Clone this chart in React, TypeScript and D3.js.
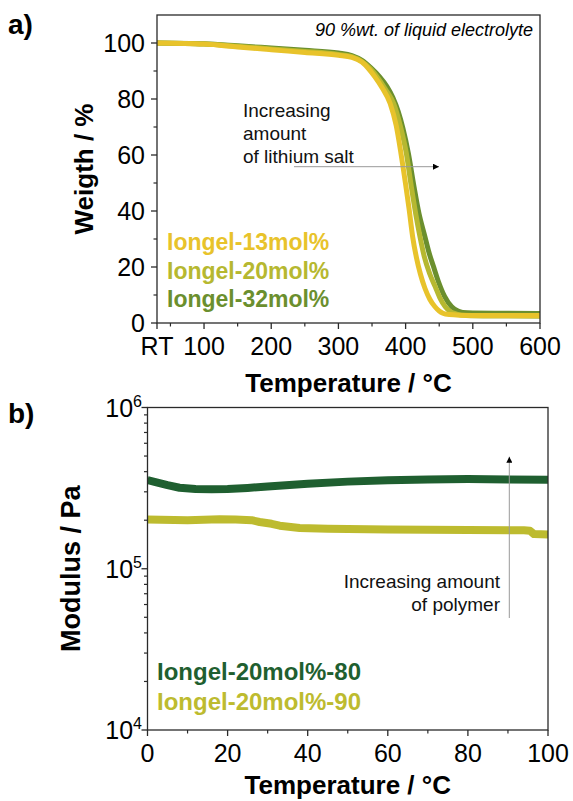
import React from "react";
import * as d3 from "d3";

// ---------- Panel a data (TGA) ----------
const tempA13 = [30, 100, 150, 200, 250, 300, 320, 335, 345, 354, 365, 377, 386, 393, 400.5, 405, 410.5, 416, 422, 428.6, 436, 443.7, 450, 455.6, 465, 480, 520, 560, 600];
const weight13 = [100, 99.6, 98.6, 97.6, 96.6, 95.6, 94.9, 93.2, 90.8, 88, 84, 78.4, 70.5, 60.7, 48.7, 41, 30.8, 23.5, 17.5, 12.5, 8.5, 5.8, 4.3, 3.5, 3.0, 2.8, 2.7, 2.7, 2.7];
const tempA20 = [30, 100, 150, 200, 250, 300, 320, 335, 348, 358, 370, 382, 392, 401, 408.5, 415, 421.4, 428, 436, 444, 451, 459, 467, 476, 490, 530, 600];
const weight20 = [100, 99.6, 98.8, 97.9, 97.0, 95.9, 95.1, 93.4, 90.7, 87.8, 83.5, 78.5, 70.5, 60.7, 48.7, 39, 30.8, 23.5, 17.5, 13, 9, 5.8, 4.0, 3.2, 2.7, 2.5, 2.4];
const tempA32 = [30, 100, 150, 200, 250, 300, 320, 335, 348, 361, 372, 381, 389, 396, 404, 412.5, 420, 428.8, 435, 441, 448.5, 458, 468.6, 478, 485, 500, 550, 600];
const weight32 = [100, 99.7, 99.0, 98.2, 97.4, 96.4, 95.5, 93.8, 91.2, 88, 84.5, 80.5, 75.5, 69.5, 60.7, 48.7, 39, 30.8, 25, 20.5, 15, 9.5, 5.8, 4.3, 3.8, 3.6, 3.5, 3.4];

const seriesA = ["Iongel-13mol%", "Iongel-20mol%", "Iongel-32mol%"];
const colorsA = ["#E8C32B", "#B6B830", "#6B8F2E"];

const xTicksA = [30, 100, 200, 300, 400, 500, 600];
const xTickLabelsA = ["RT", "100", "200", "300", "400", "500", "600"];
const xMinorA = [50, 150, 250, 350, 450, 550];
const yTicksA = [0, 20, 40, 60, 80, 100];
const yMinorA = [10, 30, 50, 70, 90];

// ---------- Panel b data (rheology) ----------
const tempB80 = [0, 2, 5, 8, 12, 16, 20, 25, 30, 40, 50, 60, 70, 80, 90, 100];
const modulus80 = [3.55e5, 3.45e5, 3.3e5, 3.18e5, 3.12e5, 3.11e5, 3.12e5, 3.17e5, 3.24e5, 3.37e5, 3.47e5, 3.54e5, 3.58e5, 3.6e5, 3.58e5, 3.56e5];
const tempB90 = [0, 10, 18, 22, 26, 28, 31, 33, 38, 45, 60, 80, 94, 95.5, 96.5, 100];
const modulus90 = [2.02e5, 2.0e5, 2.03e5, 2.02e5, 2.0e5, 1.95e5, 1.9e5, 1.85e5, 1.79e5, 1.77e5, 1.75e5, 1.74e5, 1.73e5, 1.72e5, 1.64e5, 1.63e5];

const seriesB = ["Iongel-20mol%-80", "Iongel-20mol%-90"];
const colorsB = ["#1F5F30", "#BDBB2F"];

const xTicksB = [0, 20, 40, 60, 80, 100];
const xMinorB = [10, 30, 50, 70, 90];
const yTicksB = [1e4, 1e5, 1e6];
const yExpB = ["4", "5", "6"];
const yMinorB = [2e4, 3e4, 4e4, 5e4, 6e4, 7e4, 8e4, 9e4, 2e5, 3e5, 4e5, 5e5, 6e5, 7e5, 8e5, 9e5];

const FONT = "'Liberation Sans', Arial, Helvetica, sans-serif";
const AXIS = "#2a2a2a";

export default function App() {
  // Panel a scales
  const xA = d3.scaleLinear().domain([30, 600]).range([157, 540]);
  const yA = d3.scaleLinear().domain([0, 110]).range([323, 15]);
  // Panel b scales
  const xB = d3.scaleLinear().domain([0, 100]).range([147.5, 548]);
  const yB = d3.scaleLog().domain([1e4, 1e6]).range([730, 407.5]);

  const lineA = d3.line<[number, number]>().x((d) => xA(d[0])).y((d) => yA(d[1])).curve(d3.curveMonotoneX);
  const lineB = d3.line<[number, number]>().x((d) => xB(d[0])).y((d) => yB(d[1])).curve(d3.curveLinear);

  const zip = (a: number[], b: number[]) => a.map((v, i) => [v, b[i]] as [number, number]);
  const dataA = [zip(tempA13, weight13), zip(tempA20, weight20), zip(tempA32, weight32)];
  const dataB = [zip(tempB80, modulus80), zip(tempB90, modulus90)];

  const [ax0, ax1] = xA.range();
  const [ay0, ay1] = yA.range();
  const [bx0, bx1] = xB.range();
  const [by0, by1] = yB.range();

  return (
    <svg width={573} height={801} style={{ position: "absolute", left: 0, top: 0, background: "#fff" }} fontFamily={FONT}>
      <defs>
        <clipPath id="clipA"><rect x={ax0} y={ay1} width={ax1 - ax0} height={ay0 - ay1} /></clipPath>
        <clipPath id="clipB"><rect x={bx0} y={by1} width={bx1 - bx0} height={by0 - by1} /></clipPath>
        <marker id="arrowHead" viewBox="0 0 10 10" refX="10" refY="5" markerWidth="8" markerHeight="6" markerUnits="userSpaceOnUse" orient="auto">
          <path d="M0,0 L10,5 L0,10 z" fill="#000" />
        </marker>
      </defs>

      {/* ================= Panel a ================= */}
      <text x={8} y={34} fontSize={28} fontWeight="bold">a)</text>
      <g clipPath="url(#clipA)">
        {[2, 1, 0].map((i) => (
          <path key={i} d={lineA(dataA[i]) || ""} fill="none" stroke={colorsA[i]} strokeWidth={5} strokeLinejoin="round" />
        ))}
      </g>
      <rect x={ax0} y={ay1} width={ax1 - ax0} height={ay0 - ay1} fill="none" stroke={AXIS} strokeWidth={1.3} />
      {xTicksA.map((t, i) => (
        <g key={"xa" + t}>
          <line x1={xA(t)} x2={xA(t)} y1={ay0} y2={ay0 + 6} stroke={AXIS} strokeWidth={1.3} />
          <text x={xA(t)} y={355} fontSize={25} textAnchor="middle">{xTickLabelsA[i]}</text>
        </g>
      ))}
      {xMinorA.map((t) => (
        <line key={"xma" + t} x1={xA(t)} x2={xA(t)} y1={ay0} y2={ay0 + 3.5} stroke={AXIS} strokeWidth={1.2} />
      ))}
      {yTicksA.map((t) => (
        <g key={"ya" + t}>
          <line x1={ax0 - 6} x2={ax0} y1={yA(t)} y2={yA(t)} stroke={AXIS} strokeWidth={1.3} />
          <text x={145} y={yA(t) + 9} fontSize={25} textAnchor="end">{t}</text>
        </g>
      ))}
      {yMinorA.map((t) => (
        <line key={"yma" + t} x1={ax0 - 3.5} x2={ax0} y1={yA(t)} y2={yA(t)} stroke={AXIS} strokeWidth={1.2} />
      ))}
      <text x={(ax0 + ax1) / 2} y={392} fontSize={26} fontWeight="bold" textAnchor="middle">Temperature / °C</text>
      <text transform={`translate(93,${(ay0 + ay1) / 2}) rotate(-90)`} fontSize={26} fontWeight="bold" textAnchor="middle">Weigth / %</text>
      <text x={533} y={35.5} fontSize={18} fontStyle="italic" textAnchor="end">90 %wt. of liquid electrolyte</text>
      <text fontSize={19} fill="#111">
        <tspan x={243} y={117}>Increasing</tspan>
        <tspan x={243} y={140}>amount</tspan>
        <tspan x={243} y={163}>of lithium salt</tspan>
      </text>
      <line x1={294} y1={166.7} x2={439} y2={166.7} stroke="#999" strokeWidth={1} markerEnd="url(#arrowHead)" />
      {seriesA.map((s, i) => (
        <text key={s} x={167} y={250 + i * 28.5} fontSize={23} fontWeight="bold" fill={colorsA[i]}>{s}</text>
      ))}

      {/* ================= Panel b ================= */}
      <text x={8} y={423} fontSize={28} fontWeight="bold">b)</text>
      <g clipPath="url(#clipB)">
        {[1, 0].map((i) => (
          <path key={i} d={lineB(dataB[i]) || ""} fill="none" stroke={colorsB[i]} strokeWidth={8} strokeLinejoin="round" />
        ))}
      </g>
      <rect x={bx0} y={by1} width={bx1 - bx0} height={by0 - by1} fill="none" stroke={AXIS} strokeWidth={1.3} />
      {xTicksB.map((t) => (
        <g key={"xb" + t}>
          <line x1={xB(t)} x2={xB(t)} y1={by0} y2={by0 + 6} stroke={AXIS} strokeWidth={1.3} />
          <text x={xB(t)} y={762} fontSize={25} textAnchor="middle">{t}</text>
        </g>
      ))}
      {xMinorB.map((t) => (
        <line key={"xmb" + t} x1={xB(t)} x2={xB(t)} y1={by0} y2={by0 + 3.5} stroke={AXIS} strokeWidth={1.2} />
      ))}
      {yTicksB.map((t, i) => (
        <g key={"yb" + t}>
          <line x1={bx0 - 6} x2={bx0} y1={yB(t)} y2={yB(t)} stroke={AXIS} strokeWidth={1.3} />
          <text x={142} y={yB(t) + 9} fontSize={25} textAnchor="end">
            10<tspan dy={-10} fontSize={16}>{yExpB[i]}</tspan>
          </text>
        </g>
      ))}
      {yMinorB.map((t) => (
        <line key={"ymb" + t} x1={bx0 - 3.5} x2={bx0} y1={yB(t)} y2={yB(t)} stroke={AXIS} strokeWidth={1.2} />
      ))}
      <text x={(bx0 + bx1) / 2} y={794} fontSize={26} fontWeight="bold" textAnchor="middle">Temperature / °C</text>
      <text transform={`translate(80,${(by0 + by1) / 2}) rotate(-90)`} fontSize={27} fontWeight="bold" textAnchor="middle">Modulus / Pa</text>
      <text fontSize={19} fill="#111" textAnchor="end">
        <tspan x={500} y={588}>Increasing amount</tspan>
        <tspan x={500} y={611}>of polymer</tspan>
      </text>
      <line x1={509.3} y1={618} x2={509.3} y2={456.7} stroke="#999" strokeWidth={1} markerEnd="url(#arrowHead)" />
      {seriesB.map((s, i) => (
        <text key={s} x={157} y={680 + i * 29.5} fontSize={24} fontWeight="bold" fill={colorsB[i]}>{s}</text>
      ))}
    </svg>
  );
}
